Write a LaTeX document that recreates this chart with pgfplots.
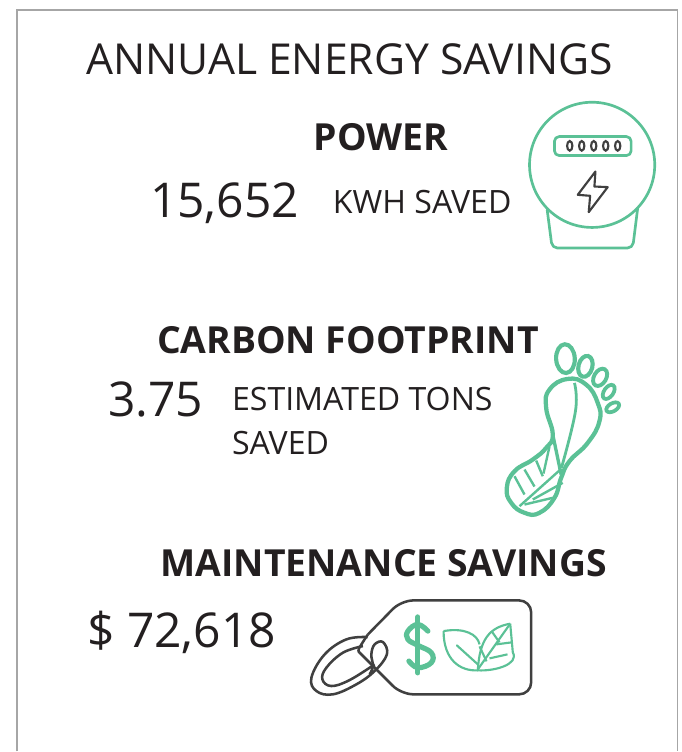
\documentclass[border=0pt]{standalone}
\usepackage{pgfplots}
\pgfplotsset{compat=1.18}
\usepackage{fontspec}
\setmainfont{Open Sans}
\definecolor{leaf}{HTML}{5BC196}
\definecolor{ink}{HTML}{231F20}
\definecolor{stroke}{HTML}{404040}
\newcommand{\TT}[4]{\node[anchor=base west,inner sep=0pt,text=ink] at (axis cs:#1,#2) {\fontsize{#3pt}{#3pt}\selectfont #4};}
\begin{document}
\begin{tikzpicture}
\begin{axis}[scale only axis,width=511.5pt,height=564pt,xmin=0,xmax=682,ymin=0,ymax=752,y dir=reverse,hide axis,clip=false]
\path[fill=white] (axis cs:0,0) rectangle (axis cs:682,752);
% frame
\addplot[color=black!35,line width=1.1pt,forget plot] coordinates {(17,752)(17,10)(678,10)(678,752)};
% text
\TT{86}{75}{32}{ANNUAL ENERGY SAVINGS}
\TT{314}{151}{28}{\bfseries POWER}
\TT{150}{218}{36}{15,652}
\TT{333}{214}{24.1}{KWH SAVED}
\TT{157}{354}{28}{\bfseries CARBON FOOTPRINT}
\TT{108}{417}{36}{3.75}
\TT{232}{411}{24.1}{ESTIMATED TONS}
\TT{232}{455}{24.1}{SAVED}
\TT{160.5}{577}{28}{\bfseries MAINTENANCE SAVINGS}
\TT{87}{648}{36}{\$ 72,618}
% meter
\begin{scope}[leaf,line width=2pt,line cap=round,line join=round]
\draw[color=leaf] (axis cs:592.7,165) circle[radius=47pt];
\draw[color=leaf,rounded corners=3.5pt] (axis cs:555,136.7) rectangle (axis cs:631.7,155.7);
\draw[color=leaf,rounded corners=4pt] (axis cs:547.7,210) -- (axis cs:552.7,248.3) -- (axis cs:633.3,248.3) -- (axis cs:638.3,208.3);
\end{scope}
\foreach \x in {570.3,582.3,594.3,606.3,618.3}{
 \edef\tmp{\noexpand\draw[color=stroke,line width=1.6pt] (axis cs:\x,146) ellipse[x radius=2pt,y radius=3.6pt];}\tmp
}
\draw[color=stroke,line width=1.6pt,line join=round] (axis cs:596,171.7) -- (axis cs:578.3,195) -- (axis cs:590.7,196) -- (axis cs:589.3,212.3) -- (axis cs:608.3,187.3) -- (axis cs:595,186.7) -- cycle;
% foot
\begin{scope}[line width=3.1pt,color=leaf]
\draw[color=leaf,rotate around={3:(axis cs:566,359)}] (axis cs:566,359) ellipse[x radius=7pt,y radius=10.8pt];
\draw[color=leaf,rotate around={-15:(axis cs:586,366.7)}] (axis cs:586,366.7) ellipse[x radius=5.2pt,y radius=8pt];
\draw[color=leaf,line width=2.9pt,rotate around={-30:(axis cs:600.7,377.7)}] (axis cs:600.7,377.7) ellipse[x radius=4.6pt,y radius=7pt];
\draw[color=leaf,line width=2.8pt,rotate around={-35:(axis cs:609.3,392.3)}] (axis cs:609.3,392.3) ellipse[x radius=3.5pt,y radius=6pt];
\draw[color=leaf,line width=2.8pt,rotate around={-60:(axis cs:613.3,407.7)}] (axis cs:613.3,407.7) ellipse[x radius=3pt,y radius=5.3pt];
\draw[color=leaf,line width=3.2pt] plot[smooth cycle,tension=0.8] coordinates {(axis cs:568.3,379.3)(axis cs:586.7,385)(axis cs:598.3,403.3)(axis cs:600,421.7)(axis cs:588.3,443.3)(axis cs:570,461.7)(axis cs:561.7,478.3)(axis cs:555,498.3)(axis cs:540,513.3)(axis cs:525,513.3)(axis cs:511.7,503.3)(axis cs:507.3,488.3)(axis cs:515,471.7)(axis cs:533.3,460)(axis cs:546.7,448.3)(axis cs:553.3,435)(axis cs:546.7,408.3)(axis cs:550,390)};
\draw[color=leaf,line width=2.1pt] plot[smooth,tension=0.7] coordinates {(axis cs:575,383.3)(axis cs:576,411.7)(axis cs:562,468.3)};
\draw[color=leaf,line width=2.5pt] (axis cs:553.3,435) -- (axis cs:561.7,475);
\draw[color=leaf,line width=1.8pt] (axis cs:520,506.7) -- (axis cs:561,470);
\draw[color=leaf,line width=1.8pt] (axis cs:515,476.7) -- (axis cs:525,495);
\draw[color=leaf,line width=1.8pt] (axis cs:525,470) -- (axis cs:535,487);
\draw[color=leaf,line width=1.8pt] (axis cs:536.7,461) -- (axis cs:543.3,476.7);
\draw[color=leaf,line width=1.8pt] (axis cs:550,447) -- (axis cs:544,474);
\draw[color=leaf,line width=1.8pt] (axis cs:563.3,483.3) -- (axis cs:533.3,500);
\draw[color=leaf,line width=1.8pt] (axis cs:553.3,498.3) -- (axis cs:525,505);
\end{scope}
% tag
\draw[color=stroke,line width=1.9pt,rounded corners=9pt] (axis cs:368.3,635) -- (axis cs:401.7,601) -- (axis cs:531.7,601) -- (axis cs:531.7,695) -- (axis cs:401.7,695) -- (axis cs:360,653.3);
\draw[color=stroke,line width=1.9pt] plot[smooth,tension=0.6] coordinates {(axis cs:360,653.3)(axis cs:359.3,649.3)(axis cs:368.3,635)};
\draw[color=stroke,line width=1.9pt] plot[smooth,tension=0.65] coordinates {(axis cs:368,637.7)(axis cs:346.7,640)(axis cs:325,655)(axis cs:311.7,678.3)(axis cs:316.7,691.7)(axis cs:333.3,695)(axis cs:356.7,685)(axis cs:375,671.7)(axis cs:387.3,655)(axis cs:383.3,642.7)(axis cs:375,645)(axis cs:371.7,655)(axis cs:373.3,666.7)(axis cs:370,675)};
\draw[color=stroke,line width=1.9pt] plot[smooth,tension=0.65] coordinates {(axis cs:363.3,646.7)(axis cs:343.3,653.3)(axis cs:326.7,668.3)(axis cs:322.7,680)(axis cs:331.7,686.7)(axis cs:350,680.7)(axis cs:375,665)};
% dollar
\draw[color=leaf,line width=3.9pt,line cap=round] (axis cs:418.3,617.5) -- (axis cs:418.3,673.5);
\draw[color=leaf,line width=3.9pt,line cap=round] plot[smooth,tension=0.7] coordinates {(axis cs:428.3,631.7)(axis cs:418.3,625)(axis cs:408.3,631.7)(axis cs:408.3,640)(axis cs:418.3,646)(axis cs:431.7,653.3)(axis cs:431.7,663.3)(axis cs:418.3,668.3)(axis cs:409.3,661.7)};
% leaves
\begin{scope}[line width=1.6pt]
\draw[color=leaf,line join=round] (axis cs:444,631.7) .. controls (axis cs:465,628) and (axis cs:478,635) .. (axis cs:480,645);
\draw[color=leaf,line join=round] (axis cs:444,631.7) .. controls (axis cs:444,660) and (axis cs:460,672) .. (axis cs:478.3,671);
\draw[color=leaf,line cap=round] (axis cs:457.3,646) -- (axis cs:478.3,665);
\draw[color=leaf,line join=round] (axis cs:510.7,624.3) .. controls (axis cs:490,628) and (axis cs:480,640) .. (axis cs:478.3,671) .. controls (axis cs:495,672) and (axis cs:520,665) .. (axis cs:513.3,653) -- (axis cs:510.7,624.3);
\draw[color=leaf] (axis cs:478.3,670) -- (axis cs:510.7,624.3);
\draw[color=leaf] (axis cs:492,631.7) -- (axis cs:500,643);
\draw[color=leaf] (axis cs:480,647) -- (axis cs:487,662);
\draw[color=leaf] (axis cs:496.7,645) -- (axis cs:512,643);
\draw[color=leaf] (axis cs:490,659) -- (axis cs:508,655);
\end{scope}
\end{axis}
\end{tikzpicture}
\end{document}
